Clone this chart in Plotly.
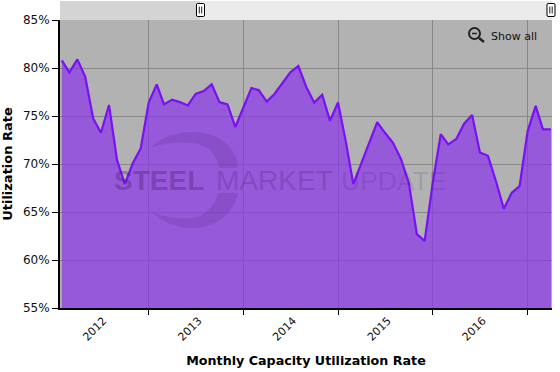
import plotly.graph_objects as go
import pandas as pd

utilization = [80.8,79.55,80.9,79.1,74.75,73.25,76.15,70.4,67.9,70.1,71.6,76.4,78.3,76.2,76.7,76.45,76.1,77.3,77.6,78.3,76.45,76.2,73.85,75.9,77.9,77.7,76.5,77.3,78.5,79.55,80.2,78.0,76.4,77.2,74.5,76.4,72.2,67.9,70.1,72.3,74.35,73.25,72.2,70.5,68.0,62.7,62.0,68.0,73.1,72.05,72.6,74.2,75.1,71.2,70.85,68.2,65.35,67.0,67.7,73.4,76.05,73.6,73.6]
months = pd.date_range("2012-02-01", periods=len(utilization), freq="MS")
year_labels = ["2012", "2013", "2014", "2015", "2016"]
year_label_dates = ["2012-07-10", "2013-07-12", "2014-07-12", "2015-07-12", "2016-07-12"]
y_ticks = [55, 60, 65, 70, 75, 80, 85]

W, H, L, R, T, B = 560, 372, 60, 552, 20, 308
def px(x): return (x - L) / (R - L)
def py(y): return (B - y) / (B - T)
def path(*parts):
    out = []
    for p in parts:
        if isinstance(p, str):
            out.append(p)
        else:
            out.append(f"{px(p[0]):.4f},{py(p[1]):.4f}")
    return " ".join(out)

fig = go.Figure()
fig.add_trace(go.Scatter(
    x=months, y=utilization, mode="lines",
    line=dict(color="#7a10f5", width=2.2),
    fill="tozeroy", fillcolor="rgba(138,51,234,0.7)",
    hoverinfo="skip", showlegend=False,
))

shapes = []
# range selector band
shapes.append(dict(type="rect", xref="paper", yref="paper", x0=px(60), x1=px(200), y0=py(20), y1=py(1),
                   fillcolor="#d4d4d4", line_width=0, layer="above"))
shapes.append(dict(type="rect", xref="paper", yref="paper", x0=px(200), x1=px(552), y0=py(20), y1=py(1),
                   fillcolor="#ebebeb", line_width=0, layer="above"))
for cx in (200.5, 551):
    shapes.append(dict(type="path", xref="paper", yref="paper", layer="above",
        path=path("M", (cx-3, 3.5), "L", (cx+3, 3.5), "Q", (cx+4, 3.5), (cx+4, 5), "L", (cx+4, 15), "Q", (cx+4, 16.5), (cx+3, 16.5),
                  "L", (cx-3, 16.5), "Q", (cx-4, 16.5), (cx-4, 15), "L", (cx-4, 5), "Q", (cx-4, 3.5), (cx-3, 3.5), "Z"),
        fillcolor="white", line=dict(color="black", width=1)))
    for dx in (-1.2, 1.2):
        shapes.append(dict(type="line", xref="paper", yref="paper", layer="above",
                           x0=px(cx+dx), x1=px(cx+dx), y0=py(6.5), y1=py(13.5), line=dict(color="#222", width=1)))
# magnifier
shapes.append(dict(type="circle", xref="paper", yref="paper", layer="above",
                   x0=px(469), x1=px(480), y0=py(39), y1=py(28), line=dict(color="#222", width=2)))
shapes.append(dict(type="line", xref="paper", yref="paper", layer="above",
                   x0=px(472), x1=px(477), y0=py(33.5), y1=py(33.5), line=dict(color="#222", width=1.5)))
shapes.append(dict(type="line", xref="paper", yref="paper", layer="above",
                   x0=px(479), x1=px(484), y0=py(38), y1=py(42), line=dict(color="#222", width=2.5)))
# watermark crescent
wm = "rgba(70,30,110,0.15)"
shapes.append(dict(type="path", xref="paper", yref="paper", layer="above", fillcolor=wm, line_width=0,
    path=path("M", (150, 148), "C", (163, 136), (178, 132), (193, 132), "C", (218, 132), (238, 148), (238, 168),
              "L", (219, 168), "C", (217, 153), (205, 143), (190, 143), "C", (176, 142), (162, 143), (150, 148), "Z")))
shapes.append(dict(type="path", xref="paper", yref="paper", layer="above", fillcolor=wm, line_width=0,
    path=path("M", (238, 193), "C", (234, 214), (215, 228), (193, 228), "C", (176, 228), (162, 222), (152, 212),
              "C", (164, 217), (178, 219), (190, 218), "C", (204, 217), (215, 207), (218, 193), "Z")))

annotations = [
    dict(text="Show all", xref="paper", yref="paper", x=px(489), y=py(36), xanchor="left", yanchor="middle",
         showarrow=False, font=dict(family="DejaVu Sans", size=11, color="#111")),
    dict(text="<b>STEEL</b>", xref="paper", yref="paper", x=px(112), y=py(180.5), xanchor="left", yanchor="middle",
         showarrow=False, font=dict(family="Liberation Sans", size=28, color="rgba(70,30,110,0.35)")),
    dict(text="MARKET", xref="paper", yref="paper", x=px(214), y=py(180.5), xanchor="left", yanchor="middle",
         showarrow=False, font=dict(family="Liberation Sans", size=28, color="rgba(70,30,110,0.25)")),
    dict(text="UPDATE", xref="paper", yref="paper", x=px(339), y=py(180.5), xanchor="left", yanchor="middle",
         showarrow=False, font=dict(family="Liberation Sans", size=26.5, color="rgba(70,30,110,0.17)")),
]

fig.update_layout(
    width=W, height=H, autosize=False,
    margin=dict(l=L, r=W-R, t=T, b=H-B, pad=0),
    paper_bgcolor="white", plot_bgcolor="#b2b2b2",
    font=dict(family="DejaVu Sans", color="#111", size=12),
    showlegend=False, shapes=shapes, annotations=annotations,
    xaxis=dict(
        type="date", range=["2012-01-25", "2017-04-05"], automargin=False,
        tickmode="array", tickvals=year_label_dates, ticktext=year_labels, tickangle=-45,
        ticks="", showgrid=False, zeroline=False, tickfont=dict(size=11),
        showline=True, linecolor="black", linewidth=2,
        minor=dict(dtick="M12", tick0="2013-01-01", ticks="outside", ticklen=5, tickwidth=1, tickcolor="black",
                   showgrid=True, gridcolor="#888888", gridwidth=1),
        title=dict(text="<b>Monthly Capacity Utilization Rate</b>", font=dict(size=12.7, color="black"), standoff=14),
    ),
    yaxis=dict(
        range=[55, 85], tickvals=y_ticks, ticktext=[f"{v}%" for v in y_ticks], automargin=False,
        ticks="outside", ticklen=6, tickwidth=1, tickcolor="black", showgrid=True, gridcolor="#888888", gridwidth=1,
        zeroline=False, showline=True, linecolor="black", linewidth=2, tickfont=dict(size=12),
        title=dict(text="<b>Utilization Rate</b>", font=dict(size=13, color="black"), standoff=12),
    ),
)
fig.write_html("out.html", config=dict(displayModeBar=False),
               post_script="document.body.style.margin='0';document.documentElement.style.overflow='hidden';")
